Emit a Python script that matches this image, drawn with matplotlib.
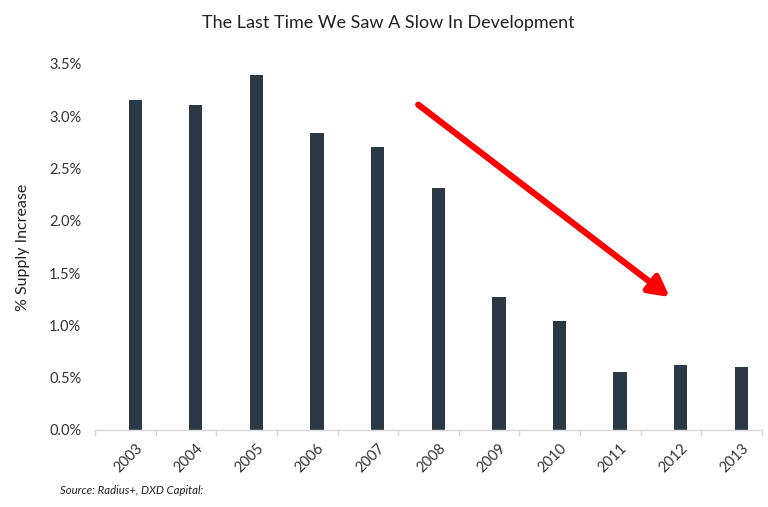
import matplotlib.pyplot as plt
import matplotlib.ticker as ticker

FIGURE_SIZE = (7.68, 5.07)
DPI = 100
BAR_COLOR = "#2b3845"
TEXT_COLOR = "#333333"
AXIS_COLOR = "#d9d9d9"
BAR_WIDTH = 0.22

plt.rcParams['font.family'] = ['Lato', 'DejaVu Sans']

years = ["2003", "2004", "2005", "2006", "2007", "2008",
         "2009", "2010", "2011", "2012", "2013"]
supply_increase = [3.15, 3.11, 3.39, 2.84, 2.71, 2.31,
                   1.27, 1.04, 0.55, 0.62, 0.60]

# trend arrow, in data units (category index, percent)
arrow_start = (4.67, 3.11)
arrow_end = (8.82, 1.27)

fig = plt.figure(figsize=FIGURE_SIZE, dpi=DPI)
ax = fig.add_axes([0.124, 0.152, 0.868, 0.722])

x = list(range(len(years)))
ax.bar(x, supply_increase, width=BAR_WIDTH, color=BAR_COLOR, zorder=2)

ax.set_xlim(-0.66, 10.34)
ax.set_ylim(0, 3.5)
ax.yaxis.set_major_locator(ticker.MultipleLocator(0.5))
ax.yaxis.set_major_formatter(ticker.FuncFormatter(lambda v, p: "%.1f%%" % v))

ax.set_xticks(x)
ax.set_xticklabels(years, rotation=45, ha='right', rotation_mode='anchor',
                   fontsize=10.5, color=TEXT_COLOR)
ax.set_xticks([i - 0.66 for i in range(len(years) + 1)], minor=True)
ax.tick_params(axis='x', which='major', length=0, pad=8)
ax.tick_params(axis='x', which='minor', length=4, color=AXIS_COLOR, width=1)
ax.tick_params(axis='y', length=0, labelsize=10.5, labelcolor=TEXT_COLOR, pad=10)

for side in ['top', 'right', 'left']:
    ax.spines[side].set_visible(False)
ax.spines['bottom'].set_color(AXIS_COLOR)
ax.spines['bottom'].set_linewidth(1)

ax.set_ylabel("% Supply Increase", fontsize=11.5, color="#222222", labelpad=14)

ax.annotate("", xy=arrow_end, xytext=arrow_start,
            arrowprops=dict(arrowstyle='-|>,head_length=0.6,head_width=0.32',
                            color='#ff0000', lw=4.5, mutation_scale=20,
                            shrinkA=0, shrinkB=0), zorder=3)

fig.text(0.505, 0.955, "The Last Time We Saw A Slow In Development",
         ha='center', va='center', fontsize=13, color="#222222")
fig.text(0.078, 0.033, "Source: Radius+, DXD Capital:", ha='left', va='center',
         fontsize=8.2, style='italic', color="#222222")

plt.savefig("out.png", dpi=DPI)
plt.close()
